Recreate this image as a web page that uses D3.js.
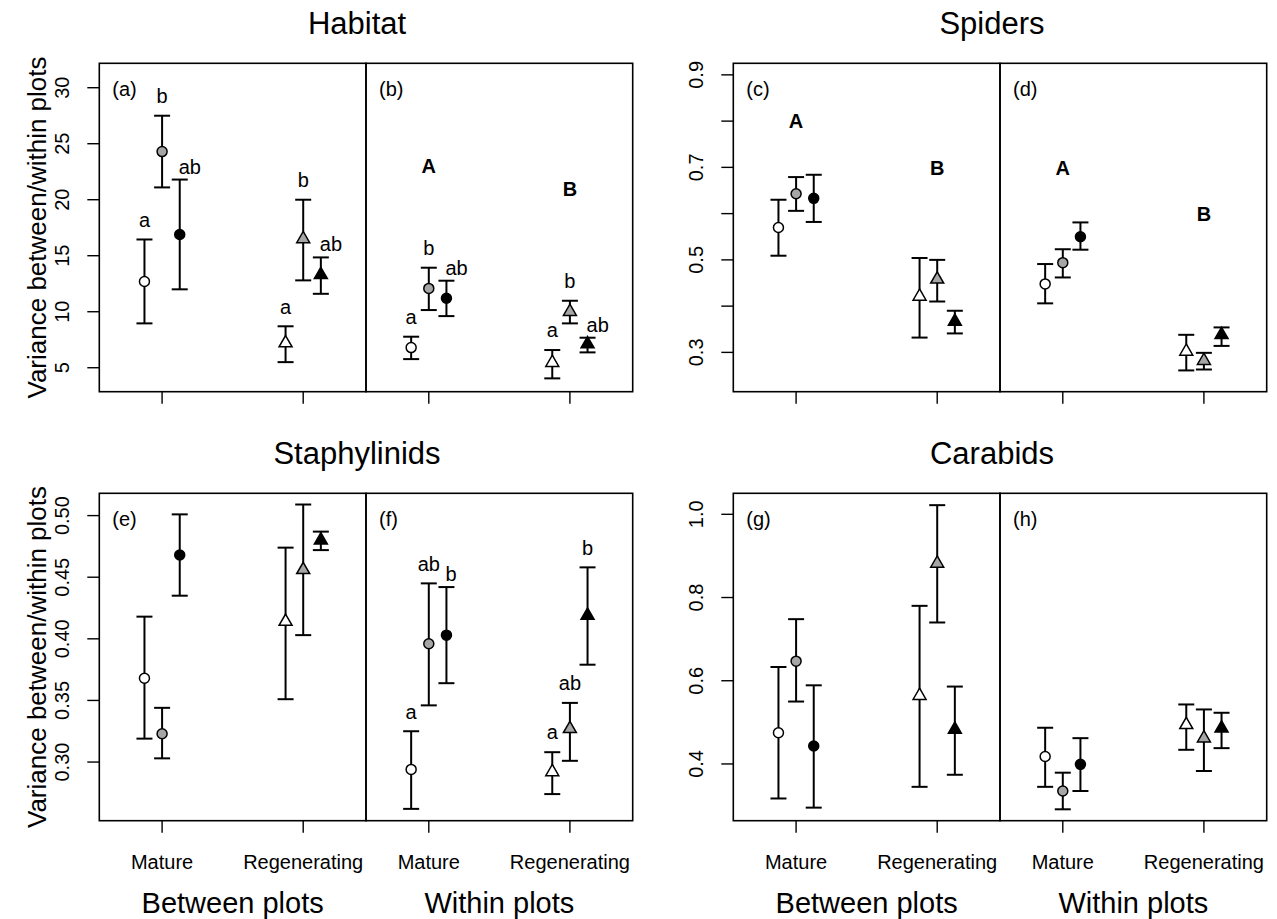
<!DOCTYPE html>
<html>
<head>
<meta charset="utf-8">
<script src="https://d3js.org/d3.v7.min.js"></script>
<style>
  body { margin: 0; background: #fff; }
  text { font-family: "Liberation Sans", Arial, sans-serif; }
</style>
</head>
<body>
<div id="chart"></div>
<script>
// categories
var taxa = ["Habitat", "Spiders", "Staphylinids", "Carabids"];
var scales = ["Between plots", "Within plots"];
var habitats = ["Mature", "Regenerating"];
var tags = [["(a)", "(b)"], ["(c)", "(d)"], ["(e)", "(f)"], ["(g)", "(h)"]];
var seriesFill = ["#ffffff", "#a6a6a6", "#000000"];

// values: [scale][habitat][series]
var habitatMean = [[[12.7, 24.3, 16.9], [7.2, 16.5, 13.3]],
                   [[6.8, 12.08, 11.2], [5.45, 10.0, 7.11]]];
var habitatLow  = [[[8.96, 21.1, 12.0], [5.5, 12.8, 11.6]],
                   [[5.77, 10.15, 9.61], [4.05, 8.96, 6.37]]];
var habitatHigh = [[[16.45, 27.5, 21.8], [8.7, 20.0, 14.85]],
                   [[7.77, 13.93, 12.77], [6.58, 10.98, 7.68]]];

var spidersMean = [[[0.570, 0.643, 0.633], [0.421, 0.458, 0.367]],
                   [[0.448, 0.494, 0.550], [0.302, 0.282, 0.338]]];
var spidersLow  = [[[0.509, 0.606, 0.582], [0.332, 0.410, 0.341]],
                   [[0.406, 0.462, 0.522], [0.261, 0.263, 0.314]]];
var spidersHigh = [[[0.630, 0.679, 0.684], [0.504, 0.500, 0.390]],
                   [[0.491, 0.523, 0.581], [0.338, 0.299, 0.354]]];

var staphMean = [[[0.368, 0.323, 0.468], [0.414, 0.456, 0.480]],
                 [[0.294, 0.396, 0.403], [0.292, 0.327, 0.419]]];
var staphLow  = [[[0.319, 0.303, 0.435], [0.351, 0.403, 0.472]],
                 [[0.262, 0.346, 0.364], [0.274, 0.301, 0.379]]];
var staphHigh = [[[0.418, 0.344, 0.501], [0.474, 0.509, 0.487]],
                 [[0.325, 0.445, 0.442], [0.308, 0.348, 0.458]]];

var carabMean = [[[0.475, 0.647, 0.443], [0.564, 0.882, 0.483]],
                 [[0.418, 0.335, 0.399], [0.494, 0.462, 0.486]]];
var carabLow  = [[[0.317, 0.550, 0.295], [0.345, 0.740, 0.374]],
                 [[0.345, 0.291, 0.335], [0.434, 0.383, 0.438]]];
var carabHigh = [[[0.633, 0.748, 0.589], [0.780, 1.022, 0.586]],
                 [[0.487, 0.379, 0.462], [0.543, 0.531, 0.523]]];

// significance letters: [scale][habitat][series]
var habitatLetters = [[["a", "b", "ab"], ["a", "b", "ab"]],
                      [["a", "b", "ab"], ["a", "b", "ab"]]];
var staphLetters = [null, [["a", "ab", "b"], ["a", "ab", "b"]]];
// habitat-level letters and their heights: [scale][habitat]
var groupLetters = ["A", "B"];
var habitatGroupY = [null, [23, 21]];
var spidersGroupY = [[0.8, 0.7], [0.7, 0.6]];

// y axes
var habitatDomain = [2.86, 32.18];
var habitatTicks = [5, 10, 15, 20, 25, 30];
var spidersDomain = [0.215, 0.925];
var spidersTicks = [0.3, 0.4, 0.5, 0.6, 0.7, 0.8, 0.9];
var spidersTickLabels = ["0.3", "", "0.5", "", "0.7", "", "0.9"];
var staphDomain = [0.2524, 0.5181];
var staphTicks = [0.30, 0.35, 0.40, 0.45, 0.50];
var staphTickLabels = ["0.30", "0.35", "0.40", "0.45", "0.50"];
var carabDomain = [0.2636, 1.0505];
var carabTicks = [0.4, 0.6, 0.8, 1.0];
var carabTickLabels = ["0.4", "0.6", "0.8", "1.0"];

var panels = [
  {mean: habitatMean, low: habitatLow, high: habitatHigh, dom: habitatDomain,
   ticks: habitatTicks, labels: habitatTicks.map(String), letters: habitatLetters, group: habitatGroupY},
  {mean: spidersMean, low: spidersLow, high: spidersHigh, dom: spidersDomain,
   ticks: spidersTicks, labels: spidersTickLabels, letters: [null, null], group: spidersGroupY},
  {mean: staphMean, low: staphLow, high: staphHigh, dom: staphDomain,
   ticks: staphTicks, labels: staphTickLabels, letters: staphLetters, group: [null, null]},
  {mean: carabMean, low: carabLow, high: carabHigh, dom: carabDomain,
   ticks: carabTicks, labels: carabTickLabels, letters: [null, null], group: [null, null]}
];

// layout
var W = 1277, H = 919;
var colLeft = [99.3, 733.3], halfW = 266.7;
var rowTop = [63.3, 493.3], rowBottom = [391.7, 820.7];
var titleX = [357, 992];
var offsets = [-0.125, 0, 0.125];

var svg = d3.select("#chart").append("svg")
  .attr("width", W).attr("height", H);

var x = d3.scaleLinear().domain([0.555, 2.445]).range([0, halfW]);

function triangle(r) {
  var h = r * Math.sqrt(3) / 2;
  return "M0," + (-r) + "L" + h + "," + (r / 2) + "L" + (-h) + "," + (r / 2) + "Z";
}

panels.forEach(function(p, i) {
  var col = i % 2, row = Math.floor(i / 2);
  var top = rowTop[row], bottom = rowBottom[row];
  var y = d3.scaleLinear().domain(p.dom).range([bottom, top]);

  svg.append("text")
    .attr("x", titleX[col]).attr("y", top - 29.5)
    .attr("text-anchor", "middle")
    .style("font-size", "31px")
    .text(taxa[i]);

  if (col === 0) {
    svg.append("text")
      .attr("transform", "translate(46," + ((top + bottom) / 2) + ") rotate(-90)")
      .attr("text-anchor", "middle")
      .style("font-size", "26px")
      .text("Variance between/within plots");
  }

  scales.forEach(function(sc, s) {
    var x0 = colLeft[col] + s * halfW;
    var g = svg.append("g").attr("transform", "translate(" + x0 + ",0)");

    g.append("rect")
      .attr("x", 0).attr("y", top)
      .attr("width", halfW).attr("height", bottom - top)
      .attr("fill", "none").attr("stroke", "#000").attr("stroke-width", 1.6);

    // y axis on the left half only
    if (s === 0) {
      p.ticks.forEach(function(t, k) {
        g.append("line")
          .attr("x1", -12).attr("x2", 0)
          .attr("y1", y(t)).attr("y2", y(t))
          .attr("stroke", "#000").attr("stroke-width", 1.4);
        if (p.labels[k] !== "") {
          g.append("text")
            .attr("transform", "translate(-30," + y(t) + ") rotate(-90)")
            .attr("text-anchor", "middle")
            .style("font-size", "20px")
            .text(p.labels[k]);
        }
      });
    }

    // x ticks
    habitats.forEach(function(hb, h) {
      g.append("line")
        .attr("x1", x(h + 1)).attr("x2", x(h + 1))
        .attr("y1", bottom).attr("y2", bottom + 12)
        .attr("stroke", "#000").attr("stroke-width", 1.4);
      if (row === 1) {
        g.append("text")
          .attr("x", x(h + 1)).attr("y", bottom + 48)
          .attr("text-anchor", "middle")
          .style("font-size", "20px")
          .text(hb);
      }
    });

    if (row === 1) {
      g.append("text")
        .attr("x", halfW / 2).attr("y", bottom + 92)
        .attr("text-anchor", "middle")
        .style("font-size", "29px")
        .text(sc);
    }

    g.append("text")
      .attr("x", 13).attr("y", top + 33)
      .style("font-size", "20px")
      .text(tags[i][s]);

    if (p.group[s]) {
      p.group[s].forEach(function(v, h) {
        g.append("text")
          .attr("x", x(h + 1)).attr("y", y(v) + 7.2)
          .attr("text-anchor", "middle")
          .style("font-size", "20px").style("font-weight", "bold")
          .text(groupLetters[h]);
      });
    }

    habitats.forEach(function(hb, h) {
      [0, 1, 2].forEach(function(k) {
        var cx = x(h + 1 + offsets[k]);
        var lo = y(p.low[s][h][k]), hi = y(p.high[s][h][k]);
        g.append("line").attr("x1", cx).attr("x2", cx).attr("y1", lo).attr("y2", hi)
          .attr("stroke", "#000").attr("stroke-width", 2);
        [lo, hi].forEach(function(yy) {
          g.append("line").attr("x1", cx - 8).attr("x2", cx + 8).attr("y1", yy).attr("y2", yy)
            .attr("stroke", "#000").attr("stroke-width", 2);
        });
        var cy = y(p.mean[s][h][k]);
        if (h === 0) {
          g.append("circle").attr("cx", cx).attr("cy", cy).attr("r", 5)
            .attr("fill", seriesFill[k]).attr("stroke", "#000").attr("stroke-width", 1.5);
        } else {
          g.append("path").attr("d", triangle(7.5))
            .attr("transform", "translate(" + cx + "," + cy + ")")
            .attr("fill", seriesFill[k]).attr("stroke", "#000").attr("stroke-width", 1.5);
        }

        var lets = p.letters[s];
        if (lets) {
          var txt = lets[h][k];
          var shifted = k === 2 && !(hi < y(p.high[s][h][1]) - 30);
          g.append("text")
            .attr("x", shifted ? cx - 1 : cx)
            .attr("y", shifted ? hi - 6 : hi - 12.7)
            .attr("text-anchor", shifted ? "start" : "middle")
            .style("font-size", "20px")
            .text(txt);
        }
      });
    });
  });
});
</script>
</body>
</html>
